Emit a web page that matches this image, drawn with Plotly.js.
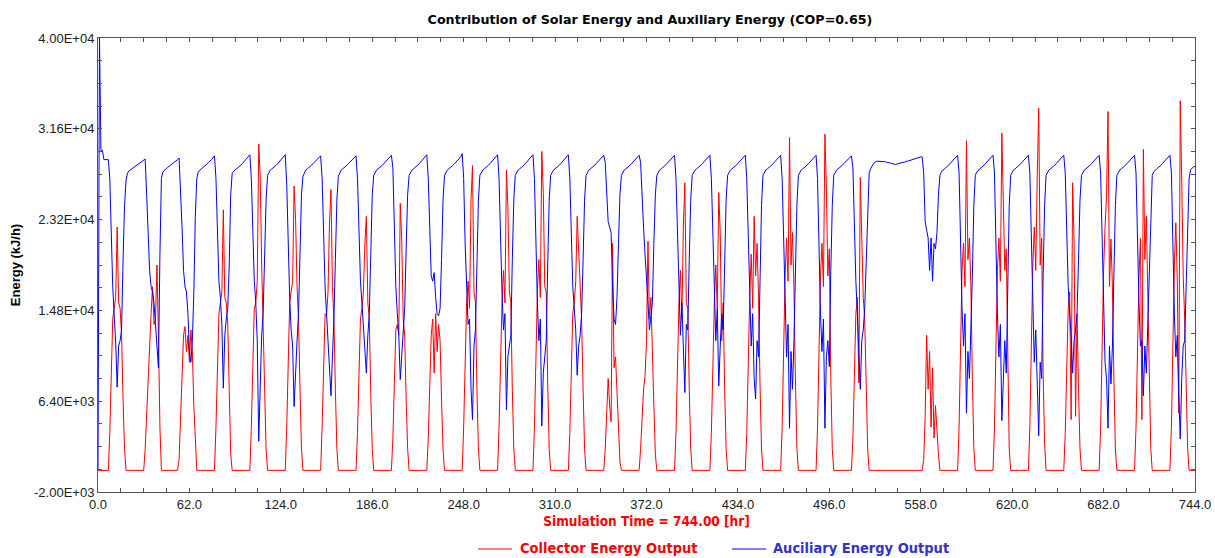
<!DOCTYPE html>
<html>
<head>
<meta charset="utf-8">
<script src="https://cdn.plot.ly/plotly-3.0.1.min.js"></script>
<style>
  html, body { margin: 0; padding: 0; background: #ffffff; }
  #chart { width: 1215px; height: 558px; }
</style>
</head>
<body>
<div id="chart"></div>
<script>
// Hourly collector energy output (kJ/h), one row per simulated day
const collectorOutput = [
  0,0,0,0,0,0,0,0, 3500,10000,14000,15000,16000,22500,15500,15000,12500,6500,2000, 0,0,0,0,0,
  0,0,0,0,0,0,0,0, 2000,5500,9000,12500,14500,17000,13500,14000,19000,12500,4000, 0,0,0,0,0,
  0,0,0,0,0,0,0, 1000,5000,9000,12500,13300,11000,12500,10000,13000,11000,6000,2000, 0,0,0,0,0,
  0,0,0,0,0,0,0,0, 4000,11000,14500,15500,16500,24100,16000,15500,13500,7500,1500, 0,0,0,0,0,
  0,0,0,0,0,0,0,0, 4000,11000,15000,15500,17500,30200,27200,19000,14000,7500,2000, 0,0,0,0,0,
  0,0,0,0,0,0,0,0, 4000,11000,15500,16500,17500,26300,23200,17000,14000,7500,2000, 0,0,0,0,0,
  0,0,0,0,0,0,0,0, 4000,10500,14500,14300,16500,22900,26000,17000,14000,7500,2000, 0,0,0,0,0,
  0,0,0,0,0,0,0,0, 3500,10000,14000,15000,16500,21000,23500,15500,14000,7000,2000, 0,0,0,0,0,
  0,0,0,0,0,0,0,0, 3000,9500,13000,13500,12500,24700,21300,14000,12500,6500,2000, 0,0,0,0,0,
  0,0,0,0,0,0,0,0, 3000,8500,12500,14000,9000,14500,11000,13500,12000,6500,2000, 0,0,0,0,0,
  0,0,0,0,0,0,0,0, 4000,11000,15500,17500,15000,25100,28200,16500,15500,7500,2000, 0,0,0,0,0,
  0,0,0,0,0,0,0,0, 4000,11000,15500,18500,15500,27800,24400,16500,15500,7500,2000, 0,0,0,0,0,
  0,0,0,0,0,0,0,0, 4000,11500,16500,19500,16000,29500,25700,17000,16500,8000,2000, 0,0,0,0,0,
  0,0,0,0,0,0,0,0, 3500,10500,14500,15500,17500,23500,20000,16000,14000,7500,2000, 0,0,0,0,0,
  0,0,0,0,0,0,0,0, 2000,6000,8500,6000,4500,21000,9500,10500,7000,3000,800, 0,0,0,0,0,
  0,0,0,0,0,0,0,0, 2000,5000,7500,8700,12000,21200,14000,16000,12000,6000,1500, 0,0,0,0,0,
  0,0,0,0,0,0,0,0, 3500,10000,15500,18500,14000,22600,26600,15500,15000,7500,2000, 0,0,0,0,0,
  0,0,0,0,0,0,0,0, 3500,10500,15500,19000,15000,25700,22000,12000,15500,7500,2000, 0,0,0,0,0,
  0,0,0,0,0,0,0,0, 3500,11000,16000,20000,15000,23500,18000,21000,16000,8000,2000, 0,0,0,0,0,
  0,0,0,0,0,0,0,0, 4000,12000,18000,21500,17500,30800,19000,22000,17000,8500,2000, 0,0,0,0,0,
  0,0,0,0,0,0,0,0, 4000,12500,18000,21000,17000,31100,26100,18000,20500,8500,2000, 0,0,0,0,0,
  0,0,0,0,0,0,0,0, 3000,10000,14500,16000,8100,27100,22400,16000,14000,7500,2000, 0,0,0,0,0,
  0,0,0,0,0,0,0,0, 0,0,0,0,0,0,0,0,0,0,0, 0,0,0,0,0,
  0,0,0,0,0,0,0,0, 1000,5000,12500,7500,11000,4000,9500,3000,6000,3500,1500, 0,0,0,0,0,
  0,0,0,0,0,0,0,0, 4000,12500,18500,21000,17000,30500,19500,21500,17000,8500,2000, 0,0,0,0,0,
  0,0,0,0,0,0,0,0, 4000,12500,18500,21500,17500,31200,25400,18500,20500,8500,2000, 0,0,0,0,0,
  0,0,0,0,0,0,0,0, 4000,13000,19000,22500,18500,27200,33500,19000,21500,9000,2500, 0,0,0,0,0,
  0,0,0,0,0,0,0,0, 3500,11000,15000,16500,4700,26600,21200,5000,14500,7500,2000, 0,0,0,0,0,
  0,0,0,0,0,0,0,0, 4000,13000,18500,22500,25400,33200,17000,21400,17000,8500,2000, 0,0,0,0,0,
  0,0,0,0,0,0,0,0, 4000,12500,18000,21500,4700,29700,19500,23500,16000,8000,2000, 0,0,0,0,0,
  0,0,0,0,0,0,0,0, 4000,13000,19000,22900,17500,5300,34200,26900,18000,14000,7500,2000, 0,0,0,0,
  0
];

// Hourly auxiliary energy output (kJ/h), one row per simulated day
const auxiliaryOutput = [
  0,40000,29600,29600,28750,28750,28750,28750, 27000,21000,17000,14300,11800,7700,11500,12000,13000,19500,24500, 26800,27500,27700,27800,27900,
  28000,28100,28200,28300,28400,28500,28600,28700, 28800,25500,22000,18500,17000,16500,15500,13500,11500,9500,20000, 27000,27600,27800,27900,28000,
  28100,28200,28300,28400,28500,28600,28750,28900, 26000,22500,18500,17000,16500,14500,11000,10000,12000,16500,23500, 27000,27600,27800,27900,28000,
  28100,28200,28350,28500,28600,28750,28900,29100, 27000,22000,17500,16000,13500,7600,12500,14000,15000,19000,25500, 27500,27700,27800,27900,28000,
  28100,28250,28400,28550,28700,28850,29000,29200, 27000,21000,17500,15500,12000,2700,8700,12500,14500,19500,25000, 27300,27600,27800,27900,28000,
  28100,28250,28400,28550,28700,28850,29000,29200, 26500,20000,16000,13000,11500,5900,9500,12000,14500,20000,25500, 27200,27600,27800,27900,28000,
  28100,28250,28400,28550,28700,28850,29000,29100, 27000,21000,17000,14500,12000,8500,6900,10500,14000,19500,25000, 27200,27600,27800,27900,28000,
  28100,28250,28400,28550,28700,28850,29000,29100, 27000,21500,17500,15500,13000,10500,9000,12500,14500,20000,25500, 27300,27600,27800,27900,28000,
  28100,28250,28400,28550,28700,28850,29000,29150, 28000,22000,17000,14500,12500,8400,11000,13500,15000,20500,25500, 27300,27600,27800,27900,28000,
  28100,28250,28400,28550,28700,28850,29000,29200, 27000,22000,18000,17500,18300,16000,14500,14300,15000,19500,25000, 27300,27600,27800,27900,28000,
  28100,28250,28400,28550,28700,28850,29000,29300, 27000,21000,16500,13500,14000,7500,4700,11500,13000,19500,25000, 27300,27600,27800,27900,28000,
  28100,28250,28400,28550,28700,28850,29000,29200, 27000,21000,16500,13000,14500,5600,10500,11500,12500,19500,25000, 27300,27600,27800,27900,28000,
  28100,28250,28400,28550,28700,28850,29000,29200, 27000,20500,15500,12000,14000,4100,9000,10500,12000,19000,25000, 27300,27600,27800,27900,28000,
  28100,28250,28400,28550,28700,28850,29000,29200, 27000,21000,17000,15000,13000,8800,11500,12500,14500,19500,25000, 27300,27600,27800,27900,28000,
  28100,28250,28400,28550,28700,28850,29000,29150, 28500,25500,23000,22500,22000,17000,14000,13500,16000,21000,25500, 27300,27600,27800,27900,28000,
  28100,28250,28400,28550,28700,28850,29000,29150, 28500,25000,22500,20000,17000,15500,13000,14000,15500,21000,25500, 27300,27600,27800,27900,28000,
  28100,28250,28400,28550,28700,28850,29000,29150, 27000,21500,16500,12500,15500,10000,7200,13500,13000,19500,25000, 27300,27600,27800,27900,28000,
  28100,28250,28400,28550,28700,28850,29000,29150, 27000,21500,16500,12000,15000,7800,11500,14500,13000,20000,25000, 27300,27600,27800,27900,28000,
  28100,28250,28400,28550,28700,28850,29000,29150, 27000,21000,16000,11500,14500,8500,6600,12000,10500,18500,24500, 27300,27600,27800,27900,28000,
  28100,28250,28400,28550,28700,28850,29000,29150, 27000,20500,14500,10500,13500,3900,11000,7500,12000,18500,24500, 27300,27600,27800,27900,28000,
  28100,28250,28400,28550,28700,28850,29000,29150, 27000,20500,14500,11000,14000,3900,10500,12000,9600,18500,24500, 27300,27600,27800,27900,28000,
  28100,28250,28400,28550,28700,28850,29000,29100, 28000,22000,17500,14500,11000,7500,12000,13000,15000,20000,25000, 27500,27900,28200,28400,28500,
  28600,28600,28600,28600,28600,28600,28550,28500, 28500,28450,28400,28350,28300,28300,28350,28400,28400,28450,28500, 28500,28600,28600,28650,28700,
  28700,28750,28800,28850,28900,28950,29000,29000, 27500,23000,22000,21500,18500,21500,17500,21000,20500,22000,25500, 27300,27600,27800,27900,28000,
  28100,28250,28400,28550,28700,28850,29000,29150, 27500,21000,15000,11500,14500,5300,11000,8500,12700,18000,24500, 27300,27600,27800,27900,28000,
  28100,28250,28400,28550,28700,28850,29000,29150, 27500,20500,14500,10500,13500,4600,9500,12000,9000,18500,24500, 27300,27600,27800,27900,28000,
  28100,28250,28400,28550,28700,28850,29000,29150, 27500,20500,14500,10000,13000,8500,3200,10000,8500,18000,24500, 27300,27600,27800,27900,28000,
  28100,28250,28400,28550,28700,28850,29000,29150, 27500,21500,17000,14500,12500,9000,12000,13000,14500,19500,25000, 27300,27600,27800,27900,28000,
  28100,28250,28400,28550,28700,28850,29000,29150, 27500,20500,14500,10000,8500,3900,11500,8000,11500,18000,24500, 27300,27600,27800,27900,28000,
  28100,28250,28400,28550,28700,28850,29000,29150, 27500,21000,15500,11500,12000,6900,11500,9000,13500,19000,24500, 27300,27600,27800,27900,28000,
  28100,28250,28400,28550,28700,28850,29000,29150, 27500,20500,14500,10500,12500,7000,2900,8500,11500,12000,17000, 23500,27000,27800,28000,28100,
  28100
];

// Axis ticks
const timeTicks = [0, 62, 124, 186, 248, 310, 372, 434, 496, 558, 620, 682, 744];
const energyTicks = [-2000, 6400, 14800, 23200, 31600, 40000];

// Simulation time in hours, one sample per hour
const hours = collectorOutput.map((_, i) => i);

// Scientific labels such as 4.00E+04
function sci(v) {
  const [m, e] = v.toExponential(2).split('e');
  const n = parseInt(e, 10);
  return m + 'E' + (n < 0 ? '-' : '+') + String(Math.abs(n)).padStart(2, '0');
}

// Plot frame in pixels, used to place the legend in paper units
const frame = { left: 98, right: 1195, top: 38, bottom: 492 };
const px = x => (x - frame.left) / (frame.right - frame.left);
const py = y => (frame.bottom - y) / (frame.bottom - frame.top);

const tickFont = { family: 'Liberation Sans, Arial, sans-serif', size: 13, color: '#222222' };
const narrowBold = 'Liberation Sans Narrow, DejaVu Sans Condensed, Arial Narrow, sans-serif';

const traces = [
  {
    x: hours, y: collectorOutput, type: 'scatter', mode: 'lines',
    name: 'Collector Energy Output',
    line: { color: '#ff0000', width: 1 }, showlegend: false, hoverinfo: 'x+y'
  },
  {
    x: hours, y: auxiliaryOutput, type: 'scatter', mode: 'lines',
    name: 'Auciliary Energy Output',
    line: { color: '#0000ff', width: 1 }, showlegend: false, hoverinfo: 'x+y'
  }
];

const axisCommon = {
  showgrid: false, zeroline: false,
  showline: true, linecolor: '#555555', linewidth: 1, mirror: 'ticks',
  ticks: 'inside', ticklen: 4, tickwidth: 1, tickcolor: '#555555',
  tickfont: tickFont
};

const layout = {
  width: 1215, height: 558,
  margin: { l: frame.left, r: 1215 - frame.right, t: frame.top, b: 558 - frame.bottom, pad: 0 },
  paper_bgcolor: '#ffffff', plot_bgcolor: '#ffffff',
  title: {
    text: '<b>Contribution of Solar Energy and Auxiliary Energy (COP=0.65)</b>',
    font: { family: 'DejaVu Sans, Liberation Sans, sans-serif', size: 12.7, color: '#000000' },
    x: px(650), xref: 'paper', xanchor: 'center',
    y: 1 - 20 / 558, yref: 'container', yanchor: 'middle'
  },
  xaxis: Object.assign({}, axisCommon, {
    range: [0, 744],
    tickmode: 'array', tickvals: timeTicks, ticktext: timeTicks.map(v => v.toFixed(1)),
    minor: { tick0: 0, dtick: 15.5, ticks: 'inside', ticklen: 4, tickcolor: '#555555' },
    title: {
      text: '<b>Simulation Time = 744.00 [hr]</b>',
      font: { family: narrowBold, size: 13.5, color: '#ff0000' },
      standoff: 5
    }
  }),
  yaxis: Object.assign({}, axisCommon, {
    range: [-2000, 40000],
    tickmode: 'array', tickvals: energyTicks, ticktext: energyTicks.map(sci),
    minor: { tick0: -2000, dtick: 2100, ticks: 'inside', ticklen: 4, tickcolor: '#555555' },
    title: {
      text: '<b>Energy (kJ/h)</b>',
      font: { family: 'Liberation Sans, Arial, sans-serif', size: 13, color: '#000000' },
      standoff: 10
    }
  }),
  shapes: [
    { type: 'line', xref: 'paper', yref: 'paper', x0: px(478), x1: px(512), y0: py(549), y1: py(549),
      line: { color: '#ff0000', width: 1 } },
    { type: 'line', xref: 'paper', yref: 'paper', x0: px(732), x1: px(766), y0: py(549), y1: py(549),
      line: { color: '#0000ff', width: 1 } }
  ],
  annotations: [
    { xref: 'paper', yref: 'paper', x: px(518), y: py(548), xanchor: 'left', yanchor: 'middle',
      showarrow: false, text: '<b>Collector Energy Output</b>',
      font: { family: narrowBold, size: 14.5, color: '#ff0000' } },
    { xref: 'paper', yref: 'paper', x: px(771), y: py(548), xanchor: 'left', yanchor: 'middle',
      showarrow: false, text: '<b>Auciliary Energy Output</b>',
      font: { family: narrowBold, size: 14.5, color: '#3333cc' } }
  ],
  showlegend: false
};

Plotly.newPlot('chart', traces, layout, { displayModeBar: false, staticPlot: true });
</script>
</body>
</html>
